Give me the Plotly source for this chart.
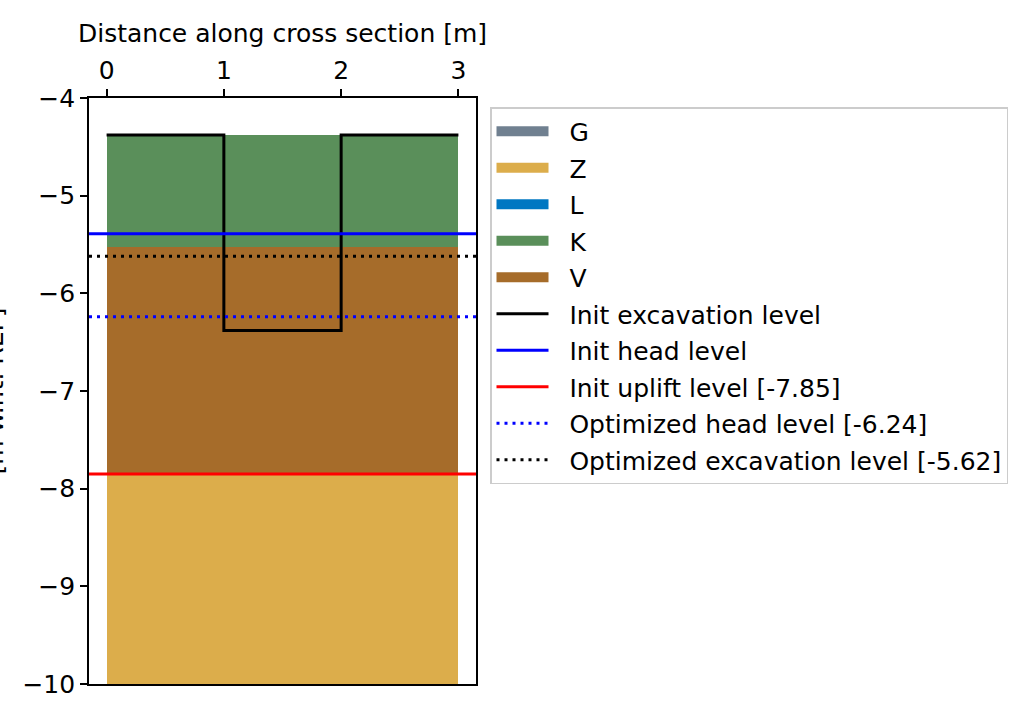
import plotly.graph_objects as go

# ---- data ----
layer_names = ["G", "Z", "L", "K", "V"]
layer_colors = ["#708090", "#DCAD4B", "#0077C2", "#5A8F5A", "#A66C2A"]
layer_tops = [None, -7.85, None, -4.38, -5.53]
layer_bottoms = [None, -10.5, None, -5.53, -7.85]
section_start = 0.0
section_end = 3.0

exc_x = [0, 1, 1, 2, 2, 3]
exc_y = [-4.38, -4.38, -6.38, -6.38, -4.38, -4.38]

init_head = -5.39
init_uplift = -7.85
opt_head = -6.24
opt_exc = -5.62

x_range = [-0.15, 3.15]
y_range = [-10, -4]
x_ticks = [0, 1, 2, 3]
y_ticks = [-10, -9, -8, -7, -6, -5, -4]

FONT = "DejaVu Sans"
FS = 25
PAD = "\u00a0\u00a0"

fig = go.Figure()

# soil layers as bars
for i, (name, col, top, bot) in enumerate(zip(layer_names, layer_colors, layer_tops, layer_bottoms)):
    if top is not None:
        fig.add_trace(go.Bar(
            x=[(section_start + section_end) / 2], y=[top - bot], base=[bot],
            width=[section_end - section_start], marker=dict(color=col, line=dict(width=0)),
            showlegend=False, hoverinfo="skip"))
    # legend patch
    fig.add_trace(go.Scatter(
        x=[None], y=[None], mode="lines", name=PAD + name,
        line=dict(color=col, width=18), legendgroup="g%d" % i, showlegend=True))

fig.update_layout(barmode="overlay", bargap=0)

lines = [
    ("Init excavation level", exc_x, exc_y, "black", "solid"),
    ("Init head level", x_range, [init_head, init_head], "#0000FF", "solid"),
    ("Init uplift level [%.2f]" % init_uplift, x_range, [init_uplift, init_uplift], "#FF0000", "solid"),
    ("Optimized head level [%.2f]" % opt_head, x_range, [opt_head, opt_head], "#0000FF", "3px,5px"),
    ("Optimized excavation level [%.2f]" % opt_exc, x_range, [opt_exc, opt_exc], "black", "3px,5px"),
]
for j, (name, xs, ys, col, dash) in enumerate(lines):
    fig.add_trace(go.Scatter(
        x=xs, y=ys, mode="lines", name=PAD + name,
        line=dict(color=col, width=3, dash=dash),
        legendgroup="l%d" % j, hoverinfo="skip"))

L, R, T, B = 89, 1022 - 476, 98, 720 - 684
PW, PH = 1022 - L - R, 720 - T - B

fig.update_layout(
    width=1022, height=720,
    margin=dict(l=L, r=R, t=T, b=B, pad=0),
    paper_bgcolor="white", plot_bgcolor="white",
    font=dict(family=FONT, size=FS, color="black"),
    showlegend=True,
    legend=dict(
        x=(490 - L) / PW, y=1 - (107 - T) / PH,
        xanchor="left", yanchor="top",
        bordercolor="#CCCCCC", borderwidth=1.5, bgcolor="white",
        font=dict(family=FONT, size=FS, color="black"),
        traceorder="grouped", tracegroupgap=1, itemwidth=52,
    ),
    xaxis=dict(
        side="top", range=x_range, tickvals=x_ticks, ticks="outside",
        ticklen=7, tickwidth=1.6, tickcolor="black",
        showline=True, linecolor="black", linewidth=1.6, mirror=True,
        showgrid=False, zeroline=False,
        title=dict(text="Distance along cross section [m]", standoff=6,
                   font=dict(family=FONT, size=FS)),
        tickfont=dict(family=FONT, size=FS),
    ),
    yaxis=dict(
        range=y_range, tickvals=y_ticks, ticks="outside",
        ticklen=7, tickwidth=1.6, tickcolor="black",
        showline=True, linecolor="black", linewidth=1.6, mirror=True,
        showgrid=False, zeroline=False,
        tickfont=dict(family=FONT, size=FS),
    ),
)

# y-axis label, mostly cut off at the left edge (as in the reference)
fig.add_annotation(
    text="[m w.r.t. REF]", textangle=-90, xref="paper", yref="paper",
    x=(10 - L) / PW, y=0.5, xanchor="right", yanchor="middle",
    showarrow=False, font=dict(family=FONT, size=FS, color="black"))

fig.write_html("out.html", config={"displayModeBar": False},
               post_script="document.body.style.margin='0';")
